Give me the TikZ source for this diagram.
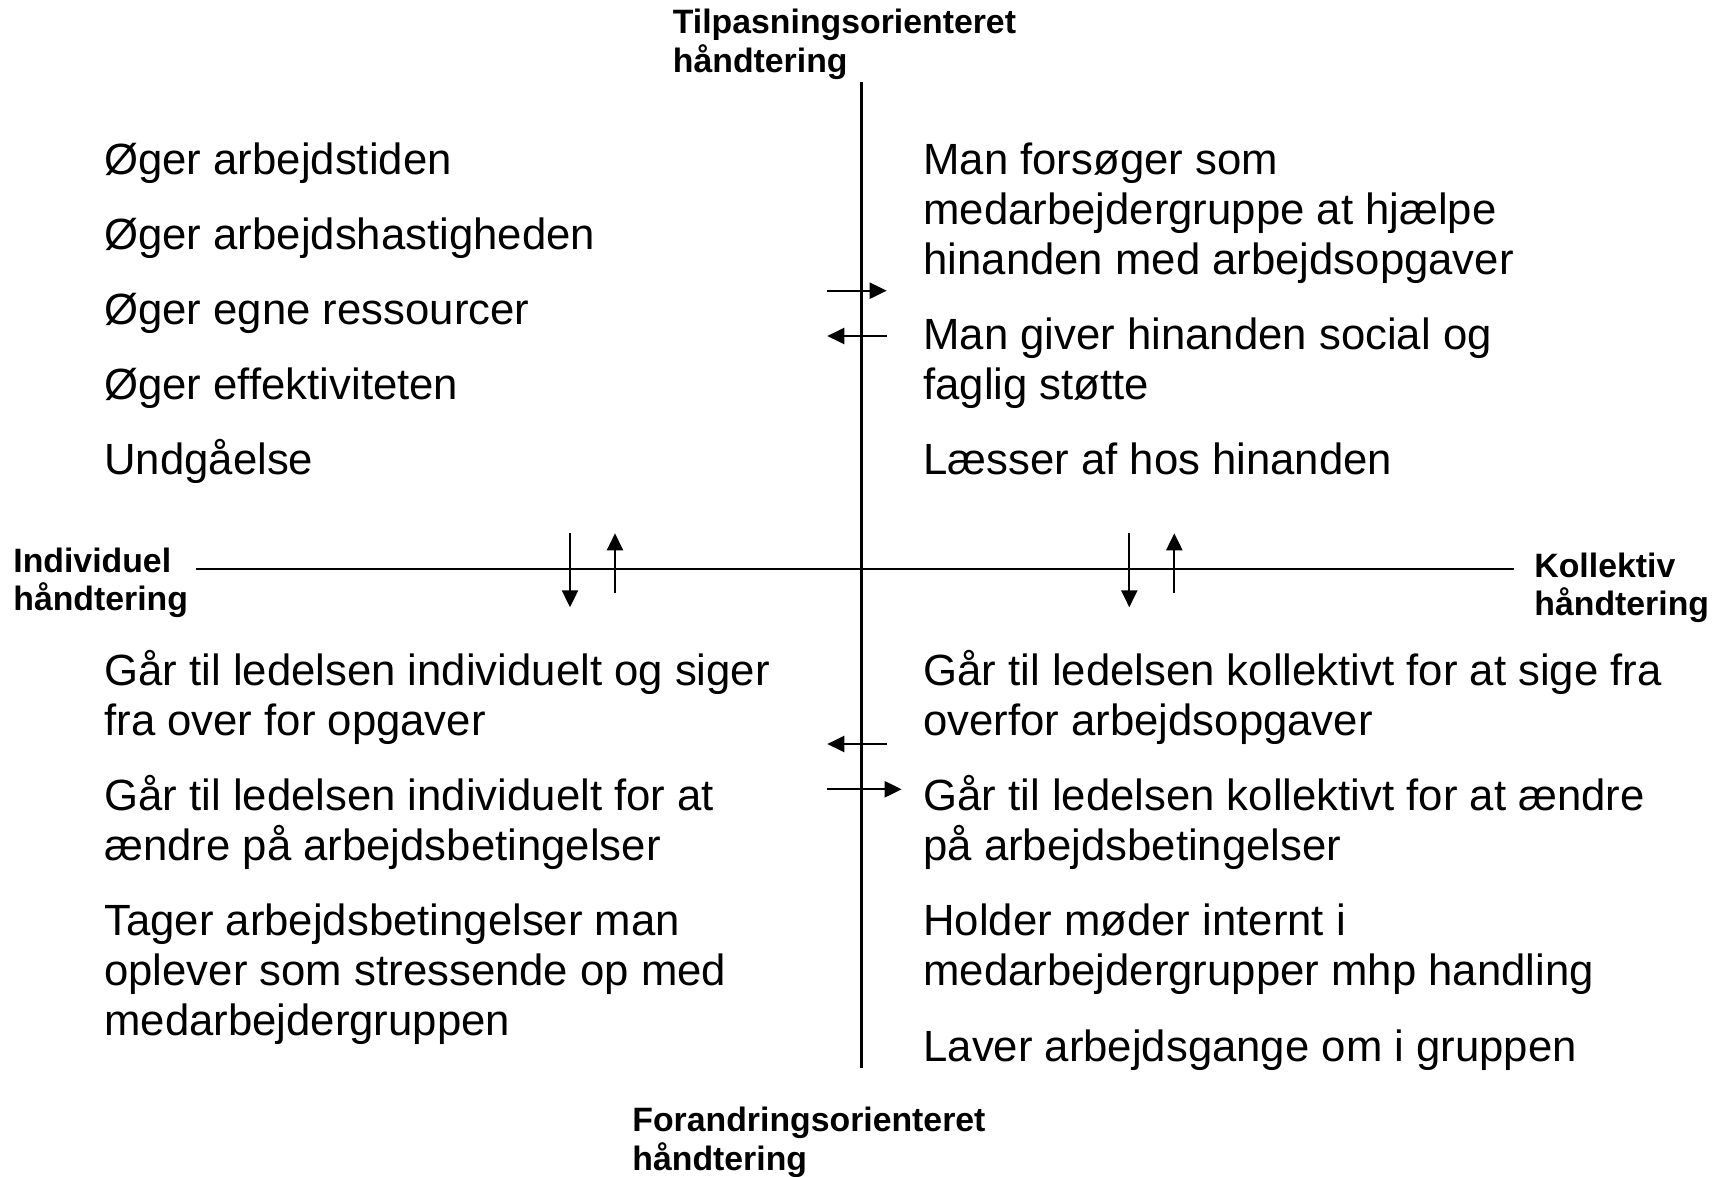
\documentclass[tikz,border=0pt]{standalone}
\usepackage{fontspec}
\setmainfont{Liberation Sans}
\usetikzlibrary{arrows.meta}
\tikzset{
  item/.style={anchor=base west, inner sep=0pt, align=left, font=\fontsize{21.85}{25}\selectfont},
  aksetekst/.style={anchor=base west, inner sep=0pt, align=left, font=\bfseries\fontsize{16.9}{19.25}\selectfont},
  pil/.style={-{Triangle[length=8.5pt,width=8pt]}, line width=1.1pt},
}
\begin{document}
\begin{tikzpicture}[x=0.5pt,y=-0.5pt]
			\useasboundingbox (0,0) rectangle (1723,1177);
			% akser
			\coordinate (top) at (861.5,82);
			\coordinate (bund) at (861.5,1068);
			\coordinate (venstre) at (196,569);
			\coordinate (hoejre) at (1514,569);
			\draw[line width=1.1pt] (top) -- (bund);
			\draw[line width=1.1pt] (venstre) -- (hoejre);
			% y = grundlinjen for sidste linje
			\node[aksetekst] (tilpas) at (672.5,72.5) {Tilpasningsorienteret\\håndtering};
			\node[aksetekst] (forandr) at (632,1170) {Forandringsorienteret\\håndtering};
			\node[aksetekst] (indiv) at (13,610.5) {Individuel\\håndtering};
			\node[aksetekst] (kollek) at (1534,615.5) {Kollektiv\\håndtering};
			% oeverst til venstre
			\foreach \t/\y [count=\i] in {Øger arbejdstiden/174.5, Øger arbejdshastigheden/249.5, Øger egne ressourcer/324.5, Øger effektiviteten/399.5, Undgåelse/474.5}
			{\node[item] (tv\i) at (104,\y) {\t};}
			% oeverst til hoejre
			\node[item] (th1) at (923,274.5) {Man forsøger som\\medarbejdergruppe at hjælpe\\hinanden med arbejdsopgaver};
			\node[item] (th2) at (923,399.5) {Man giver hinanden social og\\faglig støtte};
			\node[item] (th3) at (923,474.5) {Læsser af hos hinanden};
			% nederst til venstre
			\node[item] (bv1) at (104,735.5) {Går til ledelsen individuelt og siger\\fra over for opgaver};
			\node[item] (bv2) at (104,860.5) {Går til ledelsen individuelt for at\\ændre på arbejdsbetingelser};
			\node[item] (bv3) at (104,1035.5) {Tager arbejdsbetingelser man\\oplever som stressende op med\\medarbejdergruppen};
			% nederst til hoejre
			\node[item] (bh1) at (923,735.5) {Går til ledelsen kollektivt for at sige fra\\overfor arbejdsopgaver};
			\node[item] (bh2) at (923,860.5) {Går til ledelsen kollektivt for at ændre\\på arbejdsbetingelser};
			\node[item] (bh3) at (923,985.5) {Holder møder internt i\\medarbejdergrupper mhp handling};
			\node[item] (bh4) at (923,1061) {Laver arbejdsgange om i gruppen};
			% pile
			\draw[pil] (826.7,290.7) -- (886.7,290.7);
			\draw[pil] (887.3,336) -- (827.3,336);
			\draw[pil] (887.3,744) -- (827.3,744);
			\draw[pil] (826.7,789.3) -- (901.7,789.3);
			\foreach \x in {570, 1129.3}
			{\draw[pil] (\x,532.7) -- (\x,607.3);
			\draw[pil] (\x+45,592.7) -- (\x+45,533.3);}
		\end{tikzpicture}
\end{document}
